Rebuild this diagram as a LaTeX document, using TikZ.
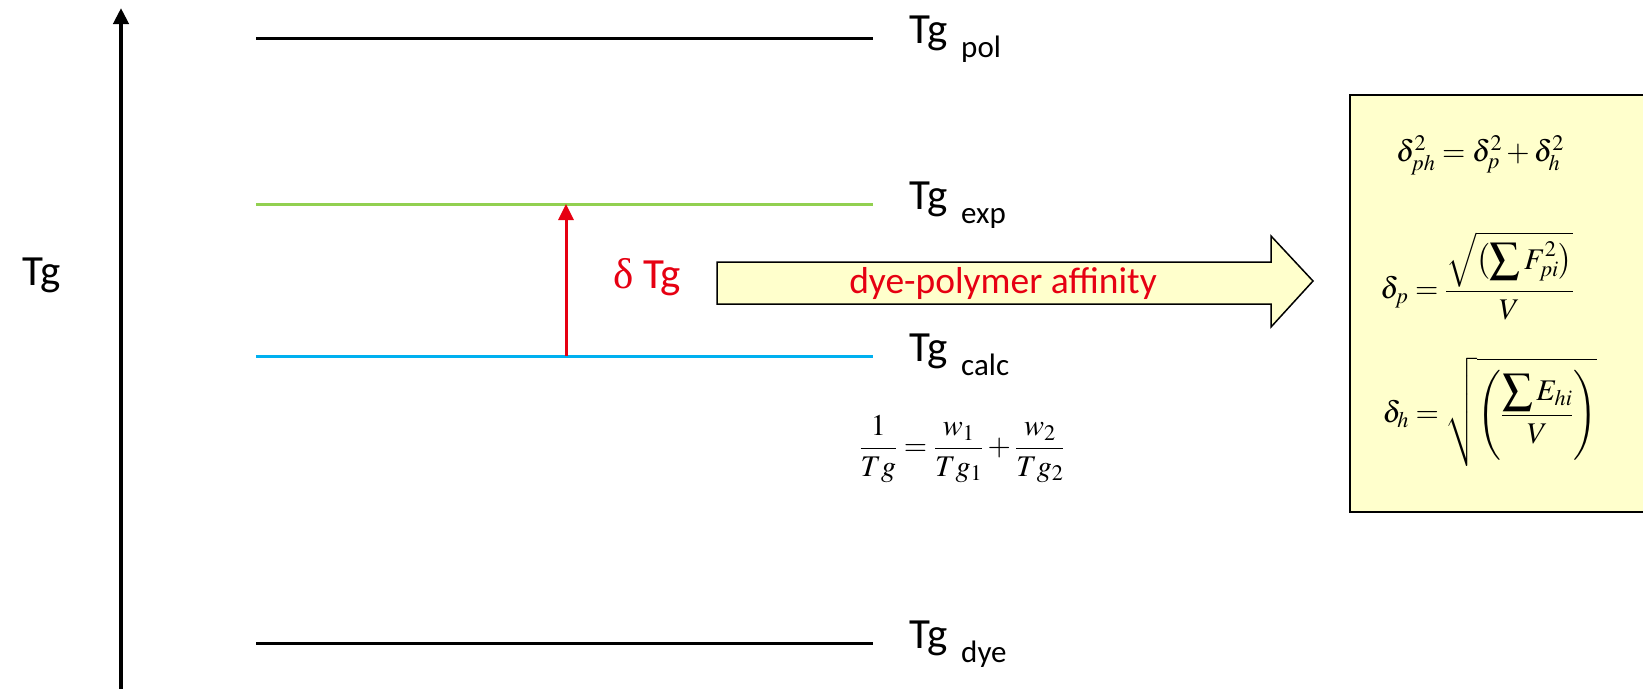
\documentclass[tikz,border=0pt]{standalone}
\usepackage{mathptmx}
\usepackage[no-math]{fontspec}
\setmainfont{Carlito}
\newfontfamily\greekfont{Liberation Serif}
\usetikzlibrary{arrows.meta}
\definecolor{expgreen}{RGB}{146,208,80}
\definecolor{calcblue}{RGB}{0,176,240}
\definecolor{dred}{RGB}{230,0,18}
\definecolor{paleyellow}{RGB}{255,255,204}
\newcommand{\tglab}[1]{Tg\hspace{14pt}\raisebox{-14pt}{\fontsize{31}{34}\selectfont #1}}

\begin{document}
\begin{tikzpicture}[x=1pt,y=-1pt,
    level/.style={line width=3pt},
    lab/.style={anchor=base west,inner sep=0pt,font=\fontsize{43}{50}\selectfont},
    eq/.style={inner sep=0pt,font=\fontsize{30}{36}\selectfont}
]
\useasboundingbox (0,0) rectangle (1643,688);

% axis
\coordinate (axbot) at (121,690);
\coordinate (axtop) at (121,8);
\draw[line width=4pt,-{Triangle[length=16pt,width=15pt]}] (axbot) -- (axtop);
\node[lab] (tgaxis) at (22,285) {Tg};

% levels
\draw[level,black]     (256,38)  -- (873,38);
\draw[level,expgreen]  (256,204) -- (873,204);
\draw[level,calcblue]  (256,356) -- (873,356);
\draw[level,black]     (256,643) -- (873,643);

\node[lab] (pol)  at (909,43)  {\tglab{pol}};
\node[lab] (exp)  at (909,209) {\tglab{exp}};
\node[lab] (calc) at (909,361) {\tglab{calc}};
\node[lab] (dye)  at (909,648) {\tglab{dye}};

% delta Tg
\coordinate (expmid)  at (566,204);
\coordinate (calcmid) at (566,356);
\draw[dred,line width=3pt,-{Triangle[length=16pt,width=15pt]}] (calcmid) -- (expmid);
\node[lab,text=dred] (dtg) at (613,288) {{\greekfont δ} Tg};

% block arrow
\draw[fill=paleyellow,line width=1.5pt] (717,262) -- (1271,262) -- (1271,236) -- (1313,281)
    -- (1271,327) -- (1271,304) -- (717,304) -- cycle;
\node[inner sep=0pt,text=dred,font=\fontsize{37.5}{42}\selectfont] (aff) at (1003,283) {dye-polymer affinity};

% Fox equation
\node[eq] (fox) at (962,449) {$\displaystyle\frac{1}{Tg}=\frac{w_1}{Tg_1}+\frac{w_2}{Tg_2}$};

% solubility box
\node[draw,fill=paleyellow,line width=1.5pt,minimum width=360pt,minimum height=417pt,anchor=north west] (hbox) at (1349,94) {};
\node[eq] (eqph) at (1480,155) {$\delta_{ph}^{2}=\delta_{p}^{2}+\delta_{h}^{2}$};
\node[eq] (eqp)  at (1477,276) {$\displaystyle\delta_{p}=\frac{\sqrt{\bigl(\displaystyle\sum F_{pi}^{2}\bigr)}}{V}$};
\node[eq] (eqh)  at (1490,412) {$\displaystyle\delta_{h}=\sqrt{\left(\frac{\displaystyle\sum E_{hi}}{V}\right)}$};
\end{tikzpicture}
\end{document}
